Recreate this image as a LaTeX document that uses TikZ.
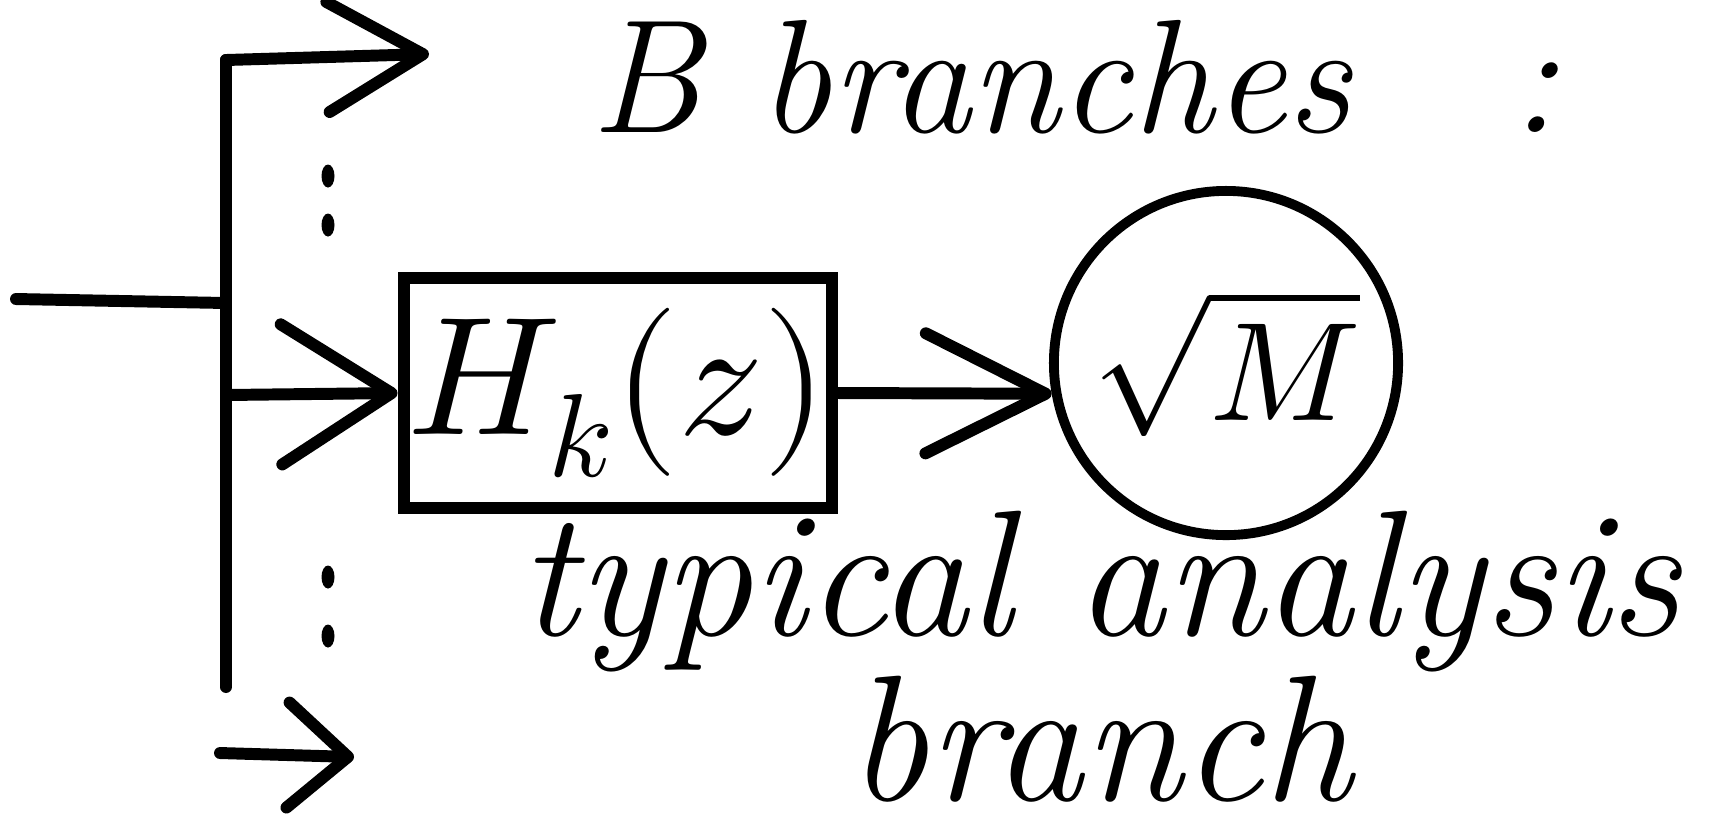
\documentclass[tikz,border=0pt]{standalone}
\usepackage{unicode-math}
\usetikzlibrary{arrows.meta}
\tikzset{
  wire/.style={line width=3.4pt, line cap=round, line join=round},
  flow/.style 2 args={wire, -{Straight Barb[round, length=#1, width=#2]}},
  filt/.style={draw, line width=3.6pt, minimum width=4.28cm, minimum height=2.30cm,
    inner sep=0pt, font=\fontsize{48}{48}\selectfont},
  gain/.style={draw, circle, line width=2.8pt, minimum size=3.44cm, inner sep=0pt,
    font=\fontsize{40}{40}\selectfont},
  note/.style={inner sep=0pt, align=center, font=\itshape\fontsize{51}{45}\selectfont},
  head/.style={inner sep=0pt, font=\itshape\fontsize{46}{46}\selectfont},
  dot/.style={x radius=0.065cm, y radius=0.115cm}
}
\begin{document}
\begin{tikzpicture}[x=0.01cm, y=-0.01cm]
  \useasboundingbox (0,0) rectangle (1724,838);

  % input and distribution bus
  \coordinate (in)   at (16,299);
  \coordinate (bj)   at (226,303);
  \coordinate (btop) at (226,60);
  \coordinate (bmid) at (226,395);
  \coordinate (bbot) at (226,687);
  \coordinate (ttip) at (429,54);
  \coordinate (lo)   at (220,753);
  \coordinate (lotip) at (354,757);

  % typical branch: filter then gain
  \node[filt] (H) at (618,393) {$H_k(z)$};
  \node[gain] (G) at (1226,363) {$\sqrt{M}$};

  \draw[wire] (in) -- (bj);
  \draw[wire] (btop) -- (bbot);
  \draw[flow={0.95cm}{1.1cm}] (btop) -- (ttip);
  \draw[flow={1.1cm}{1.4cm}] (bmid) -- (H.west);
  \draw[flow={1.2cm}{1.2cm}] (H.east) -- (G.190);
  \draw[flow={0.6cm}{1.05cm}] (lo) -- (lotip);

  % vertical ellipses between branches
  \fill (328,176) ellipse [dot];
  \fill (328,225) ellipse [dot];
  \fill (328,577) ellipse [dot];
  \fill (328,636) ellipse [dot];

  % labels (base anchor of the caption sits on its second line)
  \node[head, anchor=base] (title) at (1075,132) {B branches\hspace{1.6cm}:};
  \node[note, anchor=base] (cap) at (1100,800) {typical analysis\\branch};
\end{tikzpicture}
\end{document}
